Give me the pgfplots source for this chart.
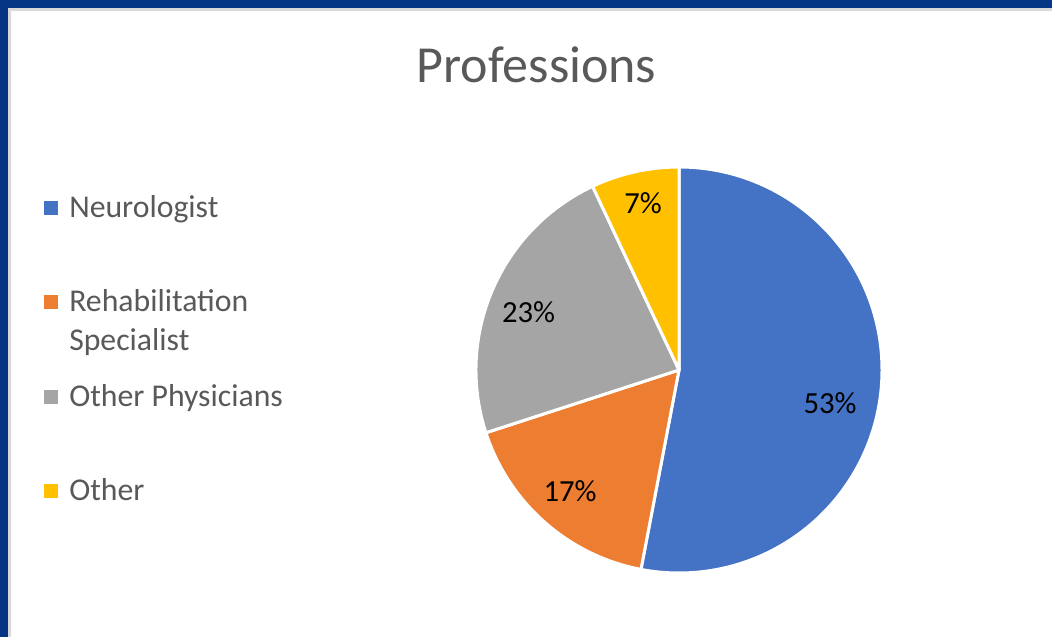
\documentclass[border=0pt]{standalone}
\usepackage{pgfplots}
\pgfplotsset{compat=1.18}
\usepackage{fontspec}
\setmainfont{Carlito}
\definecolor{frameblue}{HTML}{043685}
\definecolor{neuro}{HTML}{4472C4}
\definecolor{rehab}{HTML}{ED7D31}
\definecolor{othphys}{HTML}{A5A5A5}
\definecolor{other}{HTML}{FFC000}
\definecolor{txt}{HTML}{595959}

\begin{document}
\begin{tikzpicture}
\begin{axis}[
  width=789pt, height=477.75pt, scale only axis,
  xmin=0, xmax=1052, ymin=0, ymax=637, y dir=reverse,
  hide axis, clip=false,
]
% frame
\fill[frameblue] (axis cs:0,0) rectangle (axis cs:1052,637);
\fill[black!15] (axis cs:8,8) rectangle (axis cs:1052,637);
\fill[white] (axis cs:11,11) rectangle (axis cs:1052,637);

% pie slices, clockwise from the top
\pgfplotsextra{
  \xdef\cum{90}
  \foreach \v/\c in {53/neuro,17/rehab,23/othphys,7/other}{
    \pgfmathsetmacro\endang{\cum-3.6*\v}
    \filldraw[fill=\c, draw=white, line width=2.25pt, line join=round]
      (axis cs:679,370) -- ++(\cum:152.25pt)
      arc[start angle=\cum, end angle=\endang, radius=152.25pt] -- cycle;
    \xdef\cum{\endang}
  }
}

% slice labels
\tikzset{lbl/.style={anchor=base, font=\fontsize{23pt}{27pt}\selectfont}}
\node[lbl] at (axis cs:830,413) {53\%};
\node[lbl] at (axis cs:570,501) {17\%};
\node[lbl] at (axis cs:528.5,322) {23\%};
\node[lbl] at (axis cs:643,213) {7\%};

% title
\node[anchor=base, text=txt, font=\fontsize{39pt}{44pt}\selectfont] at (axis cs:536.5,82) {Professions};

% legend
\tikzset{leg/.style={anchor=base west, inner sep=0pt, text=txt, font=\fontsize{23.8pt}{28pt}\selectfont}}
\fill[neuro]   (axis cs:44,201) rectangle (axis cs:58,215);
\fill[rehab]   (axis cs:44,295) rectangle (axis cs:58,309);
\fill[othphys] (axis cs:44,390) rectangle (axis cs:58,404);
\fill[other]   (axis cs:44,484) rectangle (axis cs:58,498);
\node[leg] at (axis cs:69,217) {Neurologist};
\node[leg] at (axis cs:69,311) {Rehabilitation};
\node[leg] at (axis cs:69,350) {Specialist};
\node[leg] at (axis cs:69,406) {Other Physicians};
\node[leg] at (axis cs:69,500) {Other};
\end{axis}
\end{tikzpicture}
\end{document}
